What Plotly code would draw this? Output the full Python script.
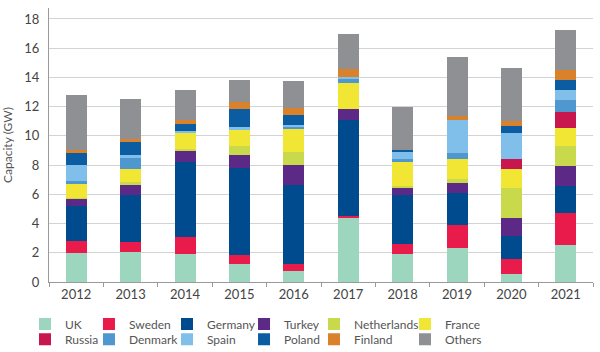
import plotly.graph_objects as go

years = ["2012", "2013", "2014", "2015", "2016", "2017", "2018", "2019", "2020", "2021"]

uk          = [2.00, 2.05, 1.93, 1.23, 0.73, 4.36, 1.91, 2.34, 0.55, 2.55]
sweden      = [0.84, 0.68, 1.12, 0.63, 0.52, 0.16, 0.70, 1.57, 1.02, 2.15]
germany     = [2.34, 3.22, 5.18, 5.94, 5.39, 6.55, 3.34, 2.20, 1.59, 1.87]
turkey      = [0.50, 0.66, 0.79, 0.88, 1.38, 0.75, 0.50, 0.69, 1.25, 1.38]
netherlands = [0.10, 0.25, 0.10, 0.64, 0.87, 0.00, 0.10, 0.22, 2.04, 1.37]
france      = [0.94, 0.87, 1.13, 1.11, 1.61, 1.79, 1.68, 1.39, 1.25, 1.23]
russia      = [0.00, 0.00, 0.00, 0.00, 0.00, 0.00, 0.00, 0.00, 0.73, 1.09]
denmark     = [0.20, 0.75, 0.00, 0.00, 0.10, 0.30, 0.16, 0.43, 0.00, 0.79]
spain       = [1.06, 0.22, 0.10, 0.18, 0.17, 0.15, 0.52, 2.27, 1.80, 0.73]
poland      = [0.86, 0.87, 0.45, 1.25, 0.64, 0.00, 0.11, 0.00, 0.45, 0.68]
finland     = [0.18, 0.20, 0.27, 0.46, 0.52, 0.52, 0.00, 0.28, 0.32, 0.64]
others      = [3.80, 2.73, 2.04, 1.48, 1.80, 2.36, 2.95, 4.04, 3.64, 2.79]

series_names = ["UK", "Sweden", "Germany", "Turkey", "Netherlands", "France",
                "Russia", "Denmark", "Spain", "Poland", "Finland", "Others"]
series_values = [uk, sweden, germany, turkey, netherlands, france,
                 russia, denmark, spain, poland, finland, others]
series_colors = ["#9dd6bf", "#e91b4b", "#004b8d", "#5c2a86", "#c9d94c", "#f2e635",
                 "#c8164f", "#4f98cf", "#80bfea", "#0b5ca1", "#d9822b", "#8f9094"]

y_ticks = [0, 2, 4, 6, 8, 10, 12, 14, 16, 18]

# legend placement (paper coords): 6 columns x 2 rows
col_x = [-0.0441, 0.0735, 0.2169, 0.3585, 0.4871, 0.6544]
row_y = [-0.153, -0.209]

fig = go.Figure()
layout_legends = {}
for i, (name, vals, col) in enumerate(zip(series_names, series_values, series_colors)):
    lg = "legend" if i == 0 else f"legend{i + 1}"
    fig.add_trace(go.Bar(x=years, y=vals, name=name, marker=dict(color=col, line=dict(width=0)),
                         legend=lg))
    layout_legends[lg] = dict(
        x=col_x[i % 6], y=row_y[i // 6], xanchor="left", yanchor="middle",
        orientation="v", bgcolor="rgba(0,0,0,0)", borderwidth=0,
        font=dict(family="Lato", size=12, color="#555555"),
    )

fig.update_layout(
    barmode="stack",
    bargap=0.614,
    width=600, height=352,
    margin=dict(l=49, r=7, t=8, b=70, autoexpand=False),
    paper_bgcolor="white", plot_bgcolor="white",
    font=dict(family="Lato", size=13, color="#444444"),
    showlegend=True,
    **layout_legends,
)

fig.update_yaxes(
    range=[0, 18.75],
    tickvals=y_ticks,
    ticktext=[str(v) for v in y_ticks],
    showgrid=True, gridcolor="#d3d3d3", gridwidth=1,
    zeroline=False,
    showline=True, linecolor="#9a9a9a", linewidth=1,
    ticks="", ticklabelstandoff=6,
    tickfont=dict(family="Lato", size=13, color="#444444"),
    title=dict(text="Capacity (GW)", font=dict(family="Lato", size=12, color="#555555"), standoff=10),
)
fig.update_xaxes(
    showline=True, linecolor="#9a9a9a", linewidth=1,
    ticks="outside", tickson="boundaries", ticklen=4, tickcolor="#9a9a9a",
    showgrid=False,
    tickfont=dict(family="Lato", size=13, color="#444444"),
)

fig.write_html("out.html")
